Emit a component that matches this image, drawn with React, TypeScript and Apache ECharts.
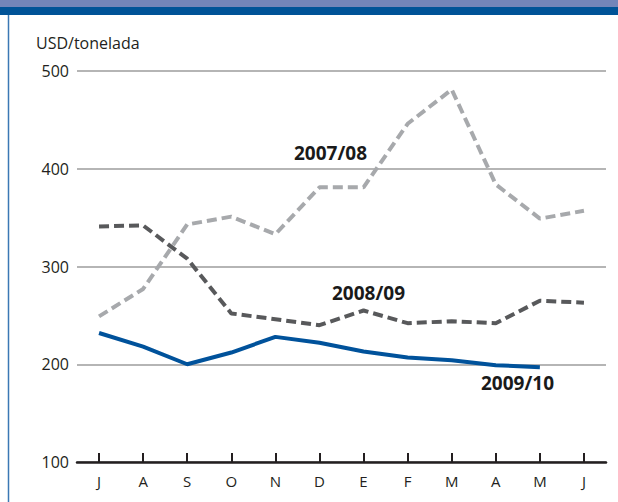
import React, { useEffect, useRef } from "react";
import * as echarts from "echarts";

const months = ["J", "A", "S", "O", "N", "D", "E", "F", "M", "A", "M", "J"];
const yTicks = [100, 200, 300, 400, 500];
const s0708 = [249, 277, 343, 351, 333, 381, 381, 446, 481, 384, 349, 357];
const s0809 = [341, 342, 308, 252, 246, 240, 255, 242, 244, 242, 265, 263];
const s0910 = [232, 218, 200, 212, 228, 222, 213, 207, 204, 199, 197];
const seriesNames = ["2007/08", "2008/09", "2009/10"];
const unitLabel = "USD/tonelada";

export default function App() {
  const ref = useRef<HTMLDivElement>(null);
  useEffect(() => {
    const chart = echarts.init(ref.current!, null, { renderer: "svg" });
    const font = "'Open Sans', 'Noto Sans', sans-serif";
    chart.setOption({
      animation: false,
      backgroundColor: "#ffffff",
      grid: { left: 77, right: 12, top: 71, height: 391, containLabel: false },
      xAxis: {
        type: "category",
        data: months,
        boundaryGap: true,
        axisLine: { show: true, lineStyle: { color: "#231f20", width: 2.5 } },
        axisTick: { show: true, alignWithLabel: true, inside: true, length: 9, lineStyle: { color: "#231f20", width: 2 } },
        axisLabel: { color: "#231f20", fontSize: 15, fontFamily: font, margin: 11 },
        splitLine: { show: false },
      },
      yAxis: {
        type: "value",
        min: yTicks[0],
        max: yTicks[yTicks.length - 1],
        interval: 100,
        axisLine: { show: false },
        axisTick: { show: false },
        axisLabel: { color: "#231f20", fontSize: 16, fontFamily: font, margin: 8 },
        splitLine: { show: true, lineStyle: { color: "#9d9d9d", width: 1.5 } },
      },
      series: [
        {
          name: seriesNames[0],
          type: "line",
          data: s0708,
          symbol: "none",
          lineStyle: { color: "#a7a9ac", width: 4, type: [10, 5], cap: "butt" },
          z: 2,
        },
        {
          name: seriesNames[1],
          type: "line",
          data: s0809,
          symbol: "none",
          lineStyle: { color: "#58595b", width: 4, type: [10, 5], cap: "butt" },
          z: 3,
        },
        {
          name: seriesNames[2],
          type: "line",
          data: s0910,
          symbol: "none",
          lineStyle: { color: "#00529b", width: 4, type: "solid" },
          z: 4,
        },
      ],
      graphic: [
        { type: "rect", left: 0, top: 0, shape: { width: 618, height: 7 }, style: { fill: "#7385b9" } },
        { type: "rect", left: 0, top: 7, shape: { width: 618, height: 8 }, style: { fill: "#005397" } },
        { type: "line", shape: { x1: 8.5, y1: 15, x2: 8.5, y2: 502 }, style: { stroke: "#3b78b4", lineWidth: 1.5 } },
        { type: "text", left: 36, top: 35, style: { text: unitLabel, fill: "#231f20", font: `16px ${font}` } },
        { type: "text", left: 294, top: 143, style: { text: seriesNames[0], fill: "#1a1a1a", font: `bold 19px ${font}` } },
        { type: "text", left: 332, top: 283, style: { text: seriesNames[1], fill: "#1a1a1a", font: `bold 19px ${font}` } },
        { type: "text", left: 481, top: 373, style: { text: seriesNames[2], fill: "#1a1a1a", font: `bold 19px ${font}` } },
      ],
    });
    return () => chart.dispose();
  }, []);
  return <div ref={ref} style={{ width: 618, height: 502, position: "absolute", left: 0, top: 0 }} />;
}
